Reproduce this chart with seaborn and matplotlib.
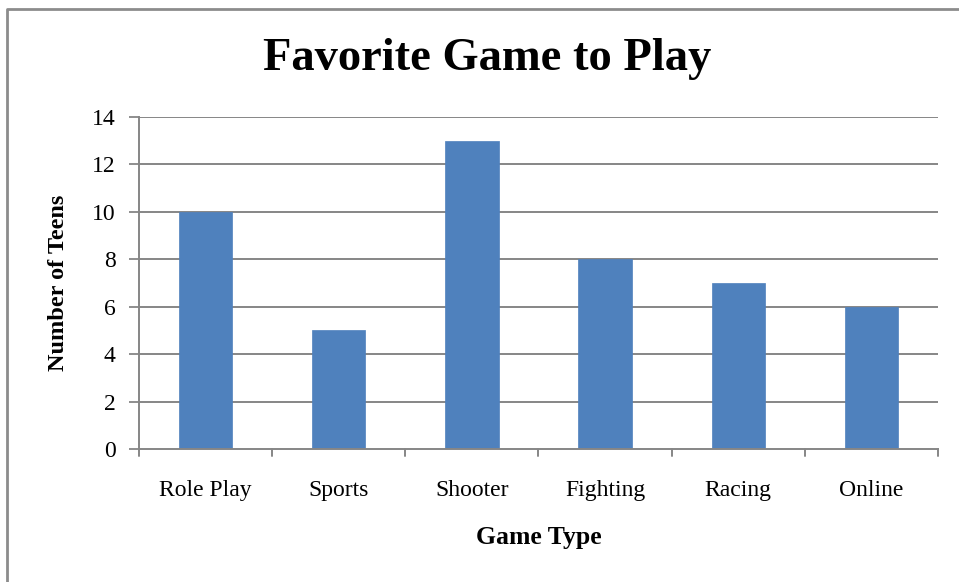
import matplotlib
matplotlib.use("Agg")
import matplotlib.pyplot as plt
import seaborn as sns
import pandas as pd

categories = ["Role Play", "Sports", "Shooter", "Fighting", "Racing", "Online"]
teens = [10, 5, 13, 8, 7, 6]
y_ticks = [0, 2, 4, 6, 8, 10, 12, 14]

sns.set_theme(style="white")
plt.rcParams["font.family"] = ["Liberation Serif", "DejaVu Serif"]
plt.rcParams["text.color"] = "black"
plt.rcParams["axes.labelcolor"] = "black"
plt.rcParams["xtick.labelcolor"] = "black"
plt.rcParams["ytick.labelcolor"] = "black"

df = pd.DataFrame({"Game Type": categories, "Number of Teens": teens})

fig = plt.figure(figsize=(9.59, 5.82), dpi=100)
ax = fig.add_axes([139 / 959, 1 - 449 / 582, (938 - 139) / 959, (449 - 117) / 582])

grid_color = "#868686"
bar_color = "#4F81BD"
sns.barplot(data=df, x="Game Type", y="Number of Teens", color=bar_color,
            width=0.4, saturation=1, ax=ax, zorder=3,
            edgecolor=bar_color, linewidth=0.5)

ax.set_ylim(0, 14)
ax.set_xlim(-0.5, len(categories) - 0.5)
ax.set_yticks(y_ticks)
ax.set_yticklabels([str(v) for v in y_ticks], fontsize=17)
ax.set_xticks(range(len(categories)))
ax.set_xticklabels(categories, fontsize=17)
ax.tick_params(axis="x", length=0, pad=22)
ax.tick_params(axis="y", length=7, width=1.3, color=grid_color, pad=10, left=True)

# horizontal gridlines
for v in y_ticks[1:]:
    ax.axhline(v, color=grid_color, lw=1.4, zorder=1)

# category separator ticks on the x axis
for b in range(len(categories) + 1):
    ax.plot([b - 0.5, b - 0.5], [0, -0.3], color=grid_color, lw=1.4,
            clip_on=False, zorder=2)

for side in ["top", "right"]:
    ax.spines[side].set_visible(False)
ax.spines["left"].set_color(grid_color)
ax.spines["left"].set_linewidth(1.4)
ax.spines["bottom"].set_color(grid_color)
ax.spines["bottom"].set_linewidth(1.4)
ax.spines["bottom"].set_zorder(4)

ax.set_xlabel("Game Type", fontsize=18.5, fontweight="bold", labelpad=18)
ax.set_ylabel("Number of Teens", fontsize=17.5, fontweight="bold", labelpad=16)

fig.text(487 / 959, 1 - 59 / 582, "Favorite Game to Play", fontsize=33.5,
         fontweight="bold", ha="center", va="center")

# chart frame (left and top edges)
frame_x = [7 / 959, 7 / 959, 1.0]
frame_y = [0.0, 1 - 9 / 582, 1 - 9 / 582]
fig.add_artist(plt.Line2D(frame_x, frame_y, color="#8c8c8c", lw=2,
                          transform=fig.transFigure))

fig.savefig("out.png", dpi=100)
